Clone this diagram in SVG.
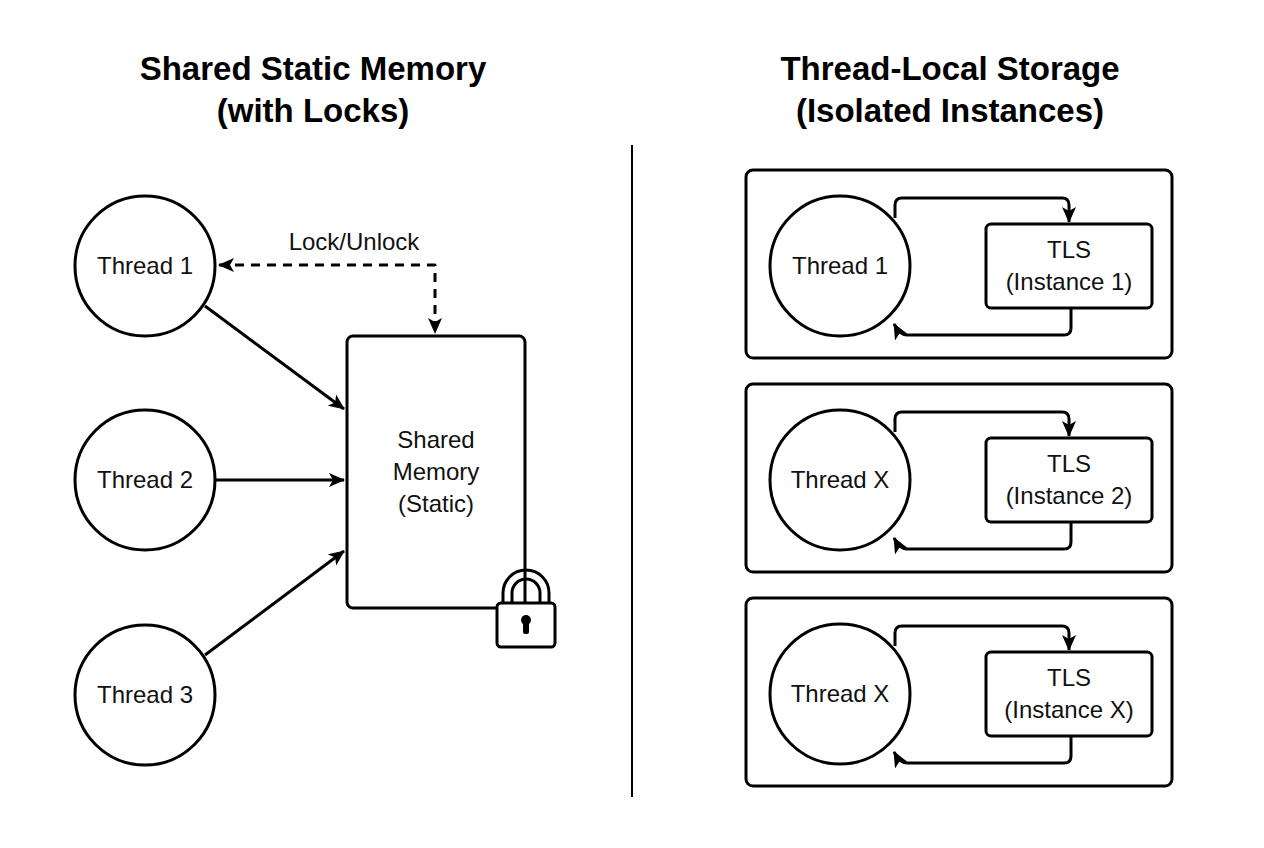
<svg xmlns="http://www.w3.org/2000/svg" width="1264" height="848" viewBox="0 0 1264 848">
<style>
.s{fill:#fff;stroke:#000;stroke-width:3}
.l{fill:none;stroke:#000;stroke-width:3;stroke-linejoin:round}
.t{font-family:"Liberation Sans",Arial,sans-serif;font-size:24px;text-anchor:middle;fill:#111}
.h{font-family:"Liberation Sans",Arial,sans-serif;font-size:33px;font-weight:bold;text-anchor:middle;fill:#000}
</style>
<defs>
<marker id="a" viewBox="0 0 16 14" refX="15" refY="7" markerWidth="16" markerHeight="14" orient="auto-start-reverse" markerUnits="userSpaceOnUse"><path d="M0,0 L16,7 L0,14 L4,7 z"/></marker>
</defs>
<rect width="1264" height="848" fill="#fff"/>
<text class="h" x="313" y="80">Shared Static Memory</text>
<text class="h" x="313" y="122">(with Locks)</text>
<text class="h" x="950" y="80">Thread-Local Storage</text>
<text class="h" x="950" y="122">(Isolated Instances)</text>
<line x1="632" y1="145" x2="632" y2="797" stroke="#000" stroke-width="2"/>
<g id="connectors">
<path class="l" d="M205,306 L344,409" marker-end="url(#a)"/>
<path class="l" d="M215,480 L344,480" marker-end="url(#a)"/>
<path class="l" d="M205,655 L344,551" marker-end="url(#a)"/>
<path class="l" d="M219,265 L435,265 L435,333" stroke-dasharray="9,7" marker-start="url(#a)" marker-end="url(#a)"/>
</g>
<text class="t" x="354" y="250">Lock/Unlock</text>
<g id="thread1"><circle class="s" cx="145" cy="266" r="70"/><text class="t" x="145" y="274">Thread 1</text></g>
<g id="thread2"><circle class="s" cx="145" cy="480" r="70"/><text class="t" x="145" y="488">Thread 2</text></g>
<g id="thread3"><circle class="s" cx="145" cy="695" r="70"/><text class="t" x="145" y="703">Thread 3</text></g>
<g id="shared"><rect class="s" x="347" y="336" width="178" height="272" rx="6"/>
<text class="t" x="436" y="448">Shared</text><text class="t" x="436" y="480">Memory</text><text class="t" x="436" y="512">(Static)</text></g>
<g id="lock">
<path class="l" d="M503,604 L503,593 A23,23 0 0 1 549,593 L549,604 M512,604 L512,593 A14,14 0 0 1 540,593 L540,604"/>
<rect class="s" x="497" y="603" width="58" height="44" rx="4"/>
<circle cx="526" cy="620" r="5"/><rect x="523" y="620" width="6" height="14" rx="2"/>
</g>
<g id="tls1">
<rect class="l" x="746" y="170" width="426" height="188" rx="7"/>
<circle class="s" cx="840" cy="266" r="70"/><text class="t" x="840" y="274">Thread 1</text>
<rect class="s" x="986" y="224" width="166" height="84" rx="5"/>
<text class="t" x="1069" y="258">TLS</text><text class="t" x="1069" y="290">(Instance 1)</text>
<path class="l" d="M895,218 L895,205 Q895,198 902,198 L1062,198 Q1069,198 1069,205 L1069,222" marker-end="url(#a)"/>
<path class="l" d="M1071,308 L1071,328 Q1071,335 1064,335 L907,335 Q900,335 894,324" marker-end="url(#a)"/>
</g>
<g id="tls2" transform="translate(0,214)">
<rect class="l" x="746" y="170" width="426" height="188" rx="7"/>
<circle class="s" cx="840" cy="266" r="70"/><text class="t" x="840" y="274">Thread X</text>
<rect class="s" x="986" y="224" width="166" height="84" rx="5"/>
<text class="t" x="1069" y="258">TLS</text><text class="t" x="1069" y="290">(Instance 2)</text>
<path class="l" d="M895,218 L895,205 Q895,198 902,198 L1062,198 Q1069,198 1069,205 L1069,222" marker-end="url(#a)"/>
<path class="l" d="M1071,308 L1071,328 Q1071,335 1064,335 L907,335 Q900,335 894,324" marker-end="url(#a)"/>
</g>
<g id="tls3" transform="translate(0,428)">
<rect class="l" x="746" y="170" width="426" height="188" rx="7"/>
<circle class="s" cx="840" cy="266" r="70"/><text class="t" x="840" y="274">Thread X</text>
<rect class="s" x="986" y="224" width="166" height="84" rx="5"/>
<text class="t" x="1069" y="258">TLS</text><text class="t" x="1069" y="290">(Instance X)</text>
<path class="l" d="M895,218 L895,205 Q895,198 902,198 L1062,198 Q1069,198 1069,205 L1069,222" marker-end="url(#a)"/>
<path class="l" d="M1071,308 L1071,328 Q1071,335 1064,335 L907,335 Q900,335 894,324" marker-end="url(#a)"/>
</g>
</svg>
